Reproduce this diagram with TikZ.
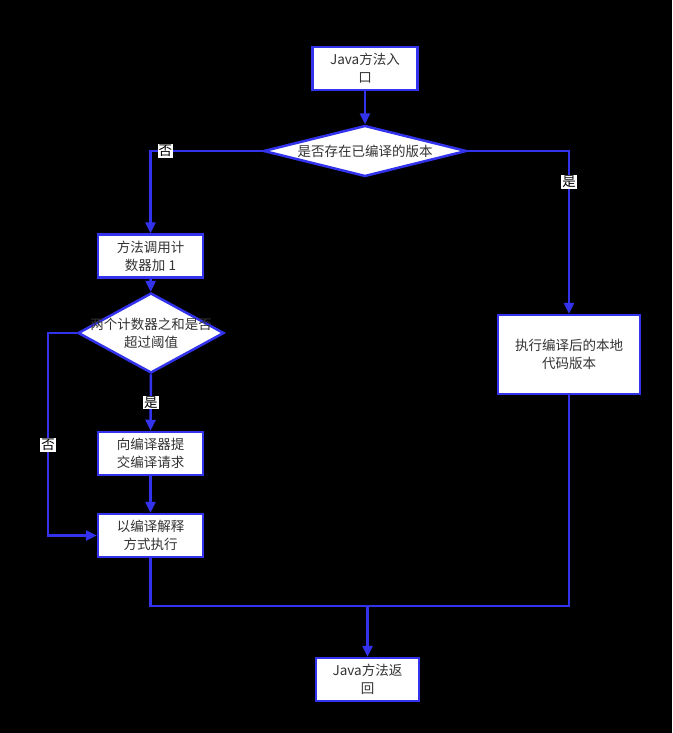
\documentclass[tikz,border=0pt]{standalone}
\usepackage{fontspec}
\newfontfamily\cjk{Noto Sans CJK SC}
\usetikzlibrary{arrows.meta,shapes.geometric}
\definecolor{flowblue}{RGB}{51,51,238}
\definecolor{flowtext}{RGB}{51,51,51}
\tikzset{
  stepbox/.style={draw=flowblue,fill=white,line width=2.5pt,text=flowtext,
    minimum width=105pt,minimum height=43pt,align=center,inner sep=2pt},
  askbox/.style={diamond,draw=flowblue,fill=white,line width=2.5pt,inner sep=0pt},
  asktext/.style={text=flowtext,align=center,inner sep=0pt},
  flow/.style={draw=flowblue,line width=2.5pt},
  go/.style={flow,-{Triangle[length=11pt,width=10pt]}},
  tag/.style={fill=white,text=black,inner sep=1pt}
}
\begin{document}
\begin{tikzpicture}[x=1pt,y=-1pt,font=\cjk\fontsize{13.5}{18}\selectfont]
\fill[black] (0,0) rectangle (672,733);
\useasboundingbox (0,0) rectangle (672,733);
% boxes
\node[stepbox] (entry) at (365,68.5) {Java方法入\\口};
\node[askbox,minimum width=203pt,minimum height=51pt] (compiled) at (365,151) {};
\node[asktext] at (compiled) {是否存在已编译的版本};
\node[stepbox] (count) at (150.5,256) {方法调用计\\数器加 1};
\node[askbox,minimum width=146pt,minimum height=80pt] (limit) at (151,333) {};
\node[asktext] at (limit) {两个计数器之和是否\\超过阈值};
\node[stepbox] (submit) at (150.5,453.5) {向编译器提\\交编译请求};
\node[stepbox] (interp) at (150.5,535.5) {以编译解释\\方式执行};
\node[stepbox,minimum width=142pt,minimum height=79pt] (native) at (569,354.5) {执行编译后的本地\\代码版本};
\node[stepbox,minimum width=103pt] (back) at (367.5,679.5) {Java方法返\\回};
\coordinate (skip) at (48,445);
\coordinate (merge) at (367.5,606);
% connectors
\draw[go] (entry) -- (compiled);
\draw[go] (compiled.west) -| node[tag,pos=0.434] {否} (count.north);
\draw[go] (compiled.east) -| node[tag,pos=0.595] {是} (native.north);
\draw[go] (count) -- (limit);
\draw[go] (limit.south) -- node[tag] {是} (submit.north);
\draw[go] (limit.west) -| (skip) node[tag] {否} |- (interp.west);
\draw[go] (submit) -- (interp);
\draw[flow] (interp.south) |- (merge) -| (native.south);
\draw[go] (merge) -- (back.north);
\end{tikzpicture}
\end{document}
